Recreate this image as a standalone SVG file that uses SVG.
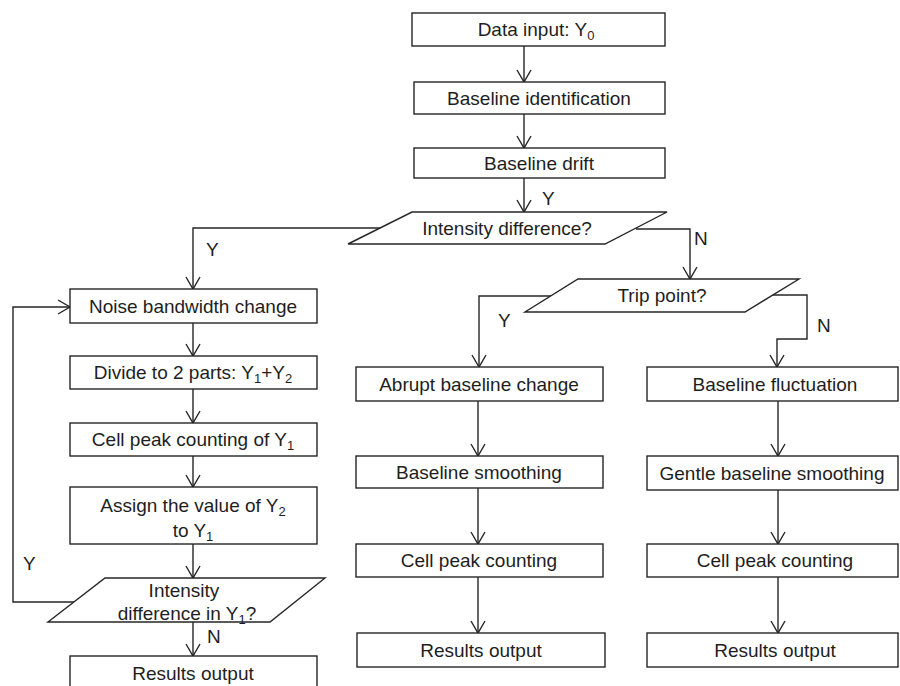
<svg xmlns="http://www.w3.org/2000/svg" width="900" height="686" viewBox="0 0 900 686">
<defs>
<marker id="arr" markerUnits="userSpaceOnUse" markerWidth="16" markerHeight="18" viewBox="-14 -9 16 18" refX="0" refY="0" orient="auto">
<path d="M-12,-7 L0,0 L-12,7" fill="none" stroke="#262626" stroke-width="1.4"/>
</marker>
<style>
.b{fill:#fff;stroke:#262626;stroke-width:1.4}
.t{font-family:"Liberation Sans",Arial,sans-serif;font-size:19px;fill:#1e1e1e;text-anchor:middle}
.l{font-family:"Liberation Sans",Arial,sans-serif;font-size:19px;fill:#1e1e1e}
.c{fill:none;stroke:#262626;stroke-width:1.4}
.s{font-size:13px}
</style>
</defs>
<rect width="900" height="686" fill="#fff"/>
<g id="connectors">
<path class="c" d="M524,46 V82" marker-end="url(#arr)"/>
<path class="c" d="M524,114 V148" marker-end="url(#arr)"/>
<path class="c" d="M524,178 V212" marker-end="url(#arr)"/>
<path class="c" d="M380,228 H193 V289" marker-end="url(#arr)"/>
<path class="c" d="M636,229 H690 V279" marker-end="url(#arr)"/>
<path class="c" d="M551,296 H479 V367" marker-end="url(#arr)"/>
<path class="c" d="M771,295 H807 V339 H777 V367" marker-end="url(#arr)"/>
<path class="c" d="M193,323 V356" marker-end="url(#arr)"/>
<path class="c" d="M193,389 V423" marker-end="url(#arr)"/>
<path class="c" d="M193,456 V487" marker-end="url(#arr)"/>
<path class="c" d="M193,544 V578" marker-end="url(#arr)"/>
<path class="c" d="M193,622 V656" marker-end="url(#arr)"/>
<path class="c" d="M74,602 H13 V307 H70" marker-end="url(#arr)"/>
<path class="c" d="M478,401 V456" marker-end="url(#arr)"/>
<path class="c" d="M478,488 V544" marker-end="url(#arr)"/>
<path class="c" d="M478,577 V633" marker-end="url(#arr)"/>
<path class="c" d="M778,401 V456" marker-end="url(#arr)"/>
<path class="c" d="M778,490 V544" marker-end="url(#arr)"/>
<path class="c" d="M778,577 V633" marker-end="url(#arr)"/>
<text class="l" x="542" y="205">Y</text>
<text class="l" x="206" y="256">Y</text>
<text class="l" x="694" y="245">N</text>
<text class="l" x="498" y="327">Y</text>
<text class="l" x="817" y="332">N</text>
<text class="l" x="23" y="570">Y</text>
<text class="l" x="207" y="643">N</text>
</g>
<g id="data-input"><rect class="b" x="412" y="13" width="253" height="33"/><text class="t" x="536" y="36">Data input: Y<tspan class="s" dy="4">0</tspan></text></g>
<g id="baseline-identification"><rect class="b" x="414" y="82" width="251" height="32"/><text class="t" x="539" y="105">Baseline identification</text></g>
<g id="baseline-drift"><rect class="b" x="414" y="148" width="251" height="30"/><text class="t" x="539" y="170">Baseline drift</text></g>
<g id="intensity-difference"><polygon class="b" points="412,212 667,212 605,244 348,244"/><text class="t" x="507" y="235">Intensity difference?</text></g>
<g id="noise-bandwidth"><rect class="b" x="70" y="289" width="247" height="34"/><text class="t" x="193" y="313">Noise bandwidth change</text></g>
<g id="divide"><rect class="b" x="70" y="356" width="247" height="33"/><text class="t" x="193" y="379">Divide to 2 parts: Y<tspan class="s" dy="4">1</tspan><tspan dy="-4">+Y</tspan><tspan class="s" dy="4">2</tspan></text></g>
<g id="cell-peak-y1"><rect class="b" x="70" y="423" width="247" height="33"/><text class="t" x="193" y="446">Cell peak counting of Y<tspan class="s" dy="4">1</tspan></text></g>
<g id="assign"><rect class="b" x="70" y="487" width="247" height="57"/><text class="t" x="193" y="512">Assign the value of Y<tspan class="s" dy="4">2</tspan></text><text class="t" x="193" y="537">to Y<tspan class="s" dy="4">1</tspan></text></g>
<g id="intensity-difference-y1"><polygon class="b" points="105,578 325,578 270,622 48,622"/><text class="t" x="184" y="597">Intensity</text><text class="t" x="187" y="620">difference in Y<tspan class="s" dy="4">1</tspan><tspan dy="-4">?</tspan></text></g>
<g id="results-left"><rect class="b" x="70" y="656" width="247" height="36"/><text class="t" x="193" y="680">Results output</text></g>
<g id="trip-point"><polygon class="b" points="578,279 799,279 745,312 525,312"/><text class="t" x="662" y="302">Trip point?</text></g>
<g id="abrupt"><rect class="b" x="356" y="367" width="247" height="34"/><text class="t" x="479" y="391">Abrupt baseline change</text></g>
<g id="baseline-smoothing"><rect class="b" x="356" y="456" width="247" height="32"/><text class="t" x="479" y="479">Baseline smoothing</text></g>
<g id="cell-peak-mid"><rect class="b" x="356" y="544" width="247" height="33"/><text class="t" x="479" y="567">Cell peak counting</text></g>
<g id="results-mid"><rect class="b" x="357" y="633" width="248" height="34"/><text class="t" x="481" y="657">Results output</text></g>
<g id="baseline-fluctuation"><rect class="b" x="647" y="367" width="251" height="34"/><text class="t" x="775" y="391">Baseline fluctuation</text></g>
<g id="gentle-smoothing"><rect class="b" x="647" y="456" width="251" height="34"/><text class="t" x="772" y="480">Gentle baseline smoothing</text></g>
<g id="cell-peak-right"><rect class="b" x="647" y="544" width="251" height="33"/><text class="t" x="775" y="567">Cell peak counting</text></g>
<g id="results-right"><rect class="b" x="647" y="633" width="251" height="34"/><text class="t" x="775" y="657">Results output</text></g>
</svg>
